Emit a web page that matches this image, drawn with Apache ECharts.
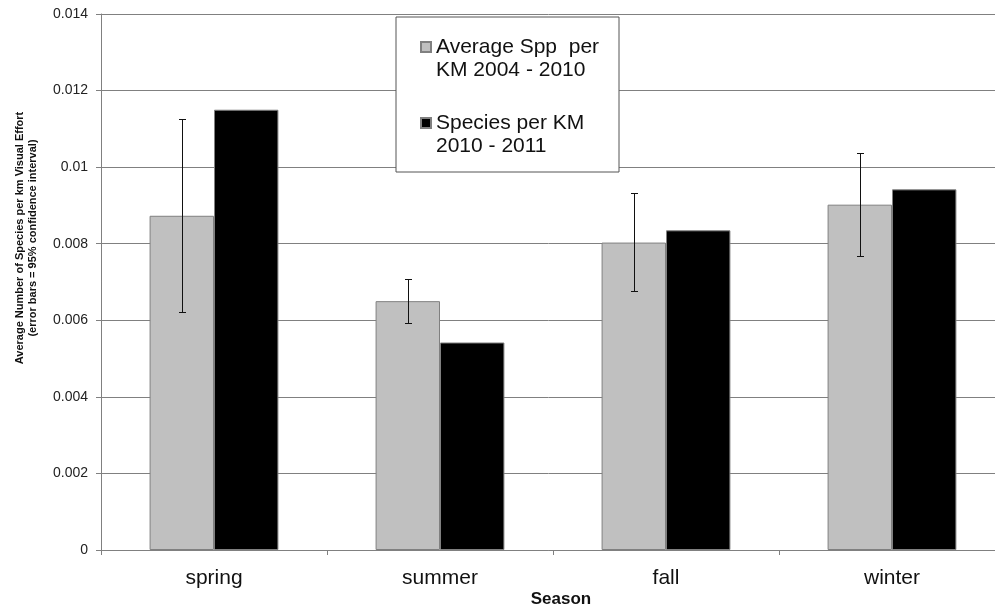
<!DOCTYPE html>
<html>
<head>
<meta charset="utf-8">
<script src="https://cdn.jsdelivr.net/npm/echarts@6/dist/echarts.min.js"></script>
<style>
html,body{margin:0;padding:0;background:#fff;}
#chart{width:995px;height:610px;}
</style>
</head>
<body>
<div id="chart"></div>
<script>
const seasons = ['spring', 'summer', 'fall', 'winter'];
const avgSpp2004_2010 = [0.00873, 0.0065, 0.00803, 0.00902];
const speciesPerKm2010_2011 = [0.0115, 0.00542, 0.00835, 0.00942];
const ciLow = [0.00622, 0.00594, 0.00676, 0.00767];
const ciHigh = [0.01125, 0.00708, 0.00933, 0.01036];
const yMin = 0, yMax = 0.014, yStep = 0.002;
const seriesNames = ['Average Spp  per\nKM 2004 - 2010', 'Species per KM\n2010 - 2011'];

const FONT = '"Liberation Sans", Arial, sans-serif';
const BAR_FRACTION = (1 - 0.43) / 2;

const errData = seasons.map((s, i) => [i, ciLow[i], ciHigh[i]]);

const chart = echarts.init(document.getElementById('chart'), null, {renderer: 'canvas'});
chart.setOption({
  animation: false,
  backgroundColor: '#fff',
  textStyle: {fontFamily: FONT},
  grid: {left: 101, top: 14, width: 904, bottom: 60, containLabel: false, outerBoundsMode: 'none'},
  graphic: [{
    type: 'rect', z: 3,
    shape: {x: 396, y: 17, width: 223, height: 155},
    style: {fill: '#fff', stroke: '#555', lineWidth: 1}
  }],
  legend: {
    data: seriesNames,
    orient: 'vertical',
    left: 420, top: 12.5,
    padding: 0,
    itemGap: 7,
    itemWidth: 10, itemHeight: 10,
    icon: 'rect',
    z: 4,
    selectedMode: false,
    formatter: function (name) { return '\n' + name; },
    textStyle: {fontFamily: FONT, fontSize: 21, lineHeight: 23, color: '#111'}
  },
  xAxis: {
    type: 'category',
    data: seasons,
    boundaryGap: true,
    axisLine: {show: true, lineStyle: {color: '#808080', width: 1}},
    axisTick: {show: true, length: 5, lineStyle: {color: '#808080'}},
    axisLabel: {fontFamily: FONT, fontSize: 21, color: '#111', margin: 18},
    splitLine: {show: false},
    name: 'Season',
    nameLocation: 'middle',
    nameGap: 41,
    nameMoveOverlap: false,
    nameTextStyle: {fontFamily: FONT, fontSize: 17, fontWeight: 'bold', color: '#111', padding: [0, 0, 0, 16]}
  },
  yAxis: {
    type: 'value',
    min: yMin, max: yMax, interval: yStep,
    axisLine: {show: true, lineStyle: {color: '#808080', width: 1}},
    axisTick: {show: true, length: 5, lineStyle: {color: '#808080'}},
    axisLabel: {fontFamily: FONT, fontSize: 14, color: '#222', margin: 13},
    splitLine: {show: true, lineStyle: {color: '#808080', width: 1}},
    name: 'Average Number of Species per km Visual Effort\n(error bars = 95% confidence interval)',
    nameLocation: 'middle',
    nameRotate: 90,
    nameGap: 62,
    nameMoveOverlap: false,
    nameTextStyle: {fontFamily: FONT, fontSize: 11, fontWeight: 'bold', color: '#111', lineHeight: 13, align: 'center', padding: [0, 0, 0, 88]}
  },
  series: [
    {
      name: seriesNames[0], type: 'bar', data: avgSpp2004_2010,
      barGap: '0%', barCategoryGap: '43%',
      itemStyle: {color: '#c0c0c0', borderColor: '#808080', borderWidth: 1}
    },
    {
      name: seriesNames[1], type: 'bar', data: speciesPerKm2010_2011,
      barGap: '0%', barCategoryGap: '43%',
      itemStyle: {color: '#000', borderColor: '#808080', borderWidth: 1}
    },
    {
      name: 'ci', type: 'custom', z: 5,
      data: errData,
      encode: {x: 0, y: [1, 2]},
      renderItem: function (params, api) {
        const idx = api.value(0);
        const band = api.size([1, 0])[0];
        const cx = Math.round(api.coord([idx, 0])[0] - band * BAR_FRACTION / 2) + 0.5;
        const yLo = Math.round(api.coord([idx, api.value(1)])[1]) + 0.5;
        const yHi = Math.round(api.coord([idx, api.value(2)])[1]) + 0.5;
        const cap = 3.5;
        const st = {stroke: '#111', lineWidth: 1};
        return {
          type: 'group',
          children: [
            {type: 'line', shape: {x1: cx, y1: yHi, x2: cx, y2: yLo}, style: st},
            {type: 'line', shape: {x1: cx - cap, y1: yHi, x2: cx + cap, y2: yHi}, style: st},
            {type: 'line', shape: {x1: cx - cap, y1: yLo, x2: cx + cap, y2: yLo}, style: st}
          ]
        };
      }
    }
  ]
});
</script>
</body>
</html>
